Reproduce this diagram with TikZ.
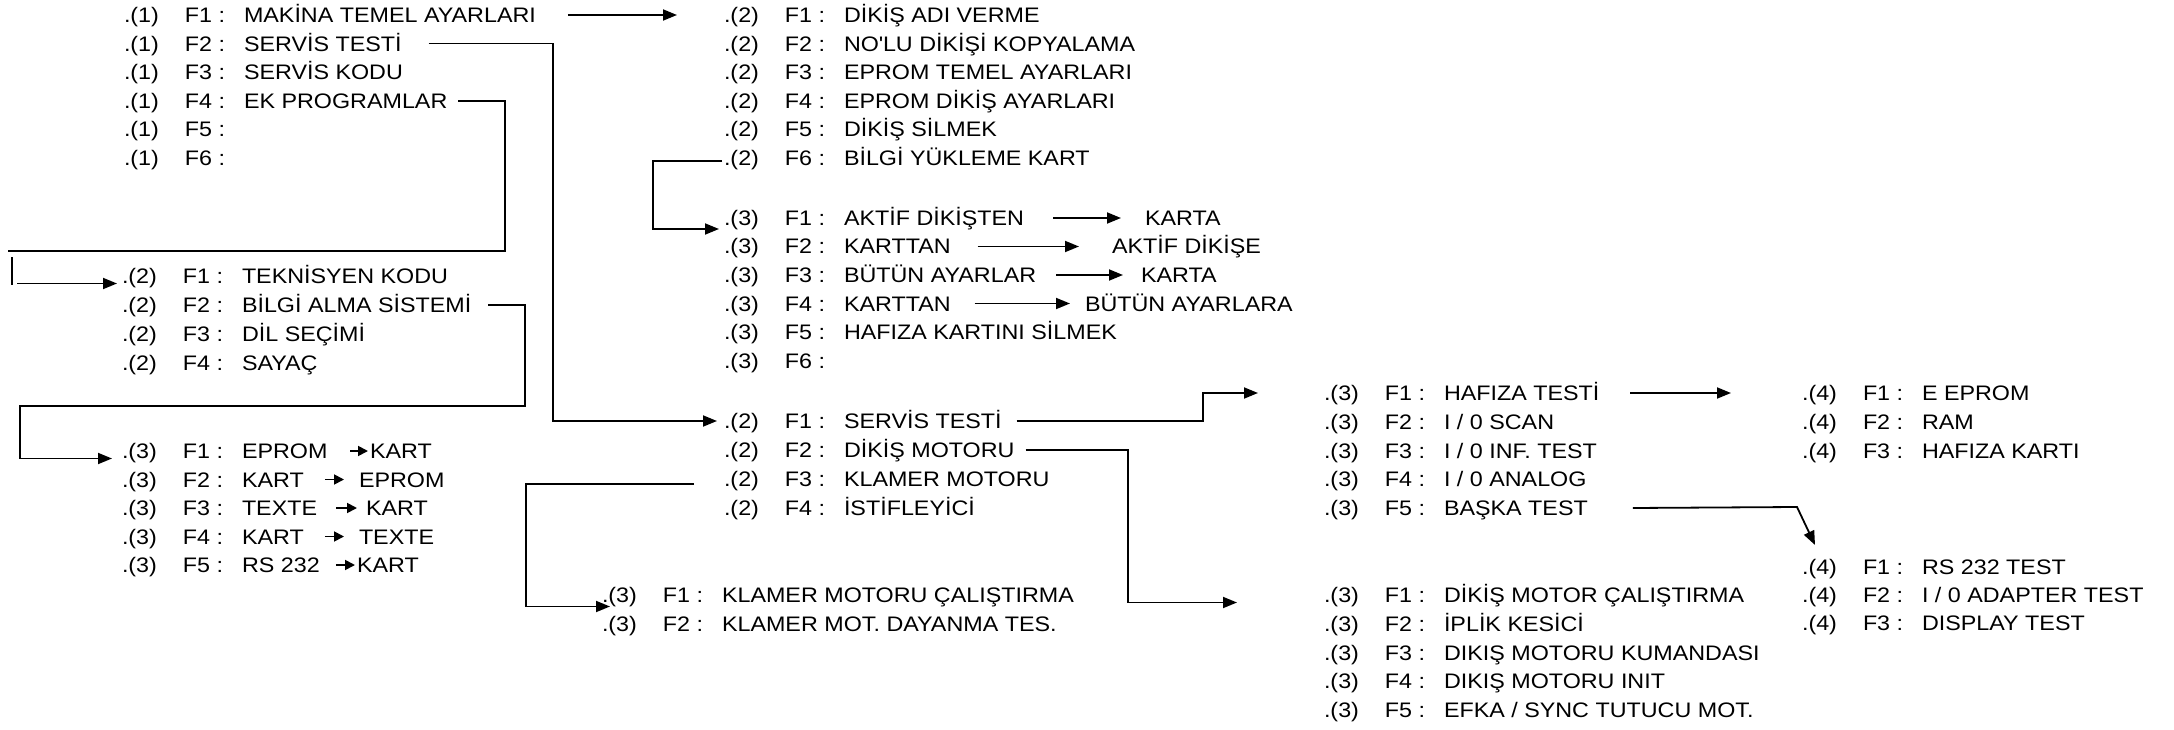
\documentclass[tikz,border=0pt]{standalone}
\usepackage{fontspec}
\setmainfont{Liberation Sans}[FakeStretch=1.11]
\usetikzlibrary{arrows.meta,calc}
\newcommand\rw[3]{\makebox[61pt][l]{#1}\makebox[59pt][l]{#2}#3}
\begin{document}
\begin{tikzpicture}[x=1pt,y=-1pt,
  every node/.style={inner sep=0pt, outer sep=0pt},
  rowt/.style={anchor=west, text height=15pt, text depth=0pt, font=\fontsize{21}{25}\selectfont},
  ln/.style={line width=1.8pt},
  arr/.style={ln,-{Triangle[length=14pt,width=11pt]}},
  sarr/.style={ln,-{Triangle[length=10pt,width=10pt]}}]
\fill[white] (0,0) rectangle (2174,730);
\useasboundingbox (0,0) rectangle (2174,730);

% level 1
\node[rowt] (a1) at (124,15)    {\rw{.(1)}{F1 :}{MAKİNA TEMEL AYARLARI}};
\node[rowt] (a2) at (124,43.6)  {\rw{.(1)}{F2 :}{SERVİS TESTİ}};
\node[rowt] (a3) at (124,72.2)  {\rw{.(1)}{F3 :}{SERVİS KODU}};
\node[rowt] (a4) at (124,100.8) {\rw{.(1)}{F4 :}{EK PROGRAMLAR}};
\node[rowt] (a5) at (124,129.4) {\rw{.(1)}{F5 :}{}};
\node[rowt] (a6) at (124,158)   {\rw{.(1)}{F6 :}{}};

% level 2 under MAKINA
\node[rowt] (d1) at (724,15)    {\rw{.(2)}{F1 :}{DİKİŞ ADI VERME}};
\node[rowt] (d2) at (724,43.6)  {\rw{.(2)}{F2 :}{NO\textquotesingle LU DİKİŞİ KOPYALAMA}};
\node[rowt] (d3) at (724,72.2)  {\rw{.(2)}{F3 :}{EPROM TEMEL AYARLARI}};
\node[rowt] (d4) at (724,100.8) {\rw{.(2)}{F4 :}{EPROM DİKİŞ AYARLARI}};
\node[rowt] (d5) at (724,129.4) {\rw{.(2)}{F5 :}{DİKİŞ SİLMEK}};
\node[rowt] (d6) at (724,158)   {\rw{.(2)}{F6 :}{BİLGİ YÜKLEME KART}};

% level 3 under BILGI YUKLEME
\node[rowt] (e1) at (724,218)   {\rw{.(3)}{F1 :}{AKTİF DİKİŞTEN}};
\node[rowt] (e2) at (724,246.5) {\rw{.(3)}{F2 :}{KARTTAN}};
\node[rowt] (e3) at (724,275)   {\rw{.(3)}{F3 :}{BÜTÜN AYARLAR}};
\node[rowt] (e4) at (724,303.5) {\rw{.(3)}{F4 :}{KARTTAN}};
\node[rowt] (e5) at (724,332)   {\rw{.(3)}{F5 :}{HAFIZA KARTINI SİLMEK}};
\node[rowt] (e6) at (724,360.5) {\rw{.(3)}{F6 :}{}};
\node[rowt] (e1r) at (1145,218)   {KARTA};
\node[rowt] (e2r) at (1112,246.5) {AKTİF DİKİŞE};
\node[rowt] (e3r) at (1141,275)   {KARTA};
\node[rowt] (e4r) at (1085,303.5) {BÜTÜN AYARLARA};

% level 2 under EK PROGRAMLAR
\node[rowt] (b1) at (122,276) {\rw{.(2)}{F1 :}{TEKNİSYEN KODU}};
\node[rowt] (b2) at (122,305) {\rw{.(2)}{F2 :}{BİLGİ ALMA SİSTEMİ}};
\node[rowt] (b3) at (122,334) {\rw{.(2)}{F3 :}{DİL SEÇİMİ}};
\node[rowt] (b4) at (122,363) {\rw{.(2)}{F4 :}{SAYAÇ}};

% level 3 under BILGI ALMA
\node[rowt] (c1) at (122,451)   {\rw{.(3)}{F1 :}{EPROM}};
\node[rowt] (c2) at (122,479.5) {\rw{.(3)}{F2 :}{KART}};
\node[rowt] (c3) at (122,508)   {\rw{.(3)}{F3 :}{TEXTE}};
\node[rowt] (c4) at (122,536.5) {\rw{.(3)}{F4 :}{KART}};
\node[rowt] (c5) at (122,565)   {\rw{.(3)}{F5 :}{RS 232}};
\node[rowt] (c1r) at (370,451)   {KART};
\node[rowt] (c2r) at (359,479.5) {EPROM};
\node[rowt] (c3r) at (366,508)   {KART};
\node[rowt] (c4r) at (359,536.5) {TEXTE};
\node[rowt] (c5r) at (357,565)   {KART};

% level 2 under SERVIS TESTI
\node[rowt] (f1) at (724,421) {\rw{.(2)}{F1 :}{SERVİS TESTİ}};
\node[rowt] (f2) at (724,450) {\rw{.(2)}{F2 :}{DİKİŞ MOTORU}};
\node[rowt] (f3) at (724,479) {\rw{.(2)}{F3 :}{KLAMER MOTORU}};
\node[rowt] (f4) at (724,508) {\rw{.(2)}{F4 :}{İSTİFLEYİCİ}};

% klamer
\node[rowt] (g1) at (602,595) {\rw{.(3)}{F1 :}{KLAMER MOTORU ÇALIŞTIRMA}};
\node[rowt] (g2) at (602,624) {\rw{.(3)}{F2 :}{KLAMER MOT. DAYANMA TES.}};

% servis testi level 3
\node[rowt] (h1) at (1324,393)   {\rw{.(3)}{F1 :}{HAFIZA TESTİ}};
\node[rowt] (h2) at (1324,422)   {\rw{.(3)}{F2 :}{I / 0 SCAN}};
\node[rowt] (h3) at (1324,450.5) {\rw{.(3)}{F3 :}{I / 0 INF. TEST}};
\node[rowt] (h4) at (1324,479)   {\rw{.(3)}{F4 :}{I / 0 ANALOG}};
\node[rowt] (h5) at (1324,508)   {\rw{.(3)}{F5 :}{BAŞKA TEST}};

% level 4
\node[rowt] (i1) at (1802,393)   {\rw{.(4)}{F1 :}{E EPROM}};
\node[rowt] (i2) at (1802,422)   {\rw{.(4)}{F2 :}{RAM}};
\node[rowt] (i3) at (1802,450.5) {\rw{.(4)}{F3 :}{HAFIZA KARTI}};
\node[rowt] (j1) at (1802,567) {\rw{.(4)}{F1 :}{RS 232 TEST}};
\node[rowt] (j2) at (1802,595) {\rw{.(4)}{F2 :}{I / 0 ADAPTER TEST}};
\node[rowt] (j3) at (1802,623) {\rw{.(4)}{F3 :}{DISPLAY TEST}};

% dikis motoru level 3
\node[rowt] (k1) at (1324,595)    {\rw{.(3)}{F1 :}{DİKİŞ MOTOR ÇALIŞTIRMA}};
\node[rowt] (k2) at (1324,623.75) {\rw{.(3)}{F2 :}{İPLİK KESİCİ}};
\node[rowt] (k3) at (1324,652.5)  {\rw{.(3)}{F3 :}{DIKIŞ MOTORU KUMANDASI}};
\node[rowt] (k4) at (1324,681.25) {\rw{.(3)}{F4 :}{DIKIŞ MOTORU INIT}};
\node[rowt] (k5) at (1324,710)    {\rw{.(3)}{F5 :}{EFKA / SYNC TUTUCU MOT.}};

% corner coordinates
\coordinate (kA2) at (553,421);
\coordinate (ekR) at (505,251);
\coordinate (ekL) at (8,251);
\coordinate (stubT) at (12,257);
\coordinate (stubB) at (12,285);
\coordinate (bR) at (525,406);
\coordinate (bL) at (20,406);
\coordinate (brX) at (653,229);
\coordinate (fR) at (1203,400);
\coordinate (fD) at (1128,500);
\coordinate (gL) at (526,550);
\coordinate (hJ) at (1797,507);

% connectors
\draw[arr] ([xshift=32pt]a1.east) -- ([xshift=-47pt]d1.west);
\draw[arr,shorten >=7pt] ([xshift=27pt]a2.east) -| (kA2) |- (f1.west);
\draw[ln] ([xshift=11pt]a4.east) -| (ekR) -- (ekL);
\draw[ln] (stubT) -- (stubB);
\draw[arr] ([xshift=-105pt]b1.south west) -- ([xshift=-5pt]b1.south west);
\draw[arr,shorten >=10pt] ([xshift=17pt]b2.east) -| (bR) -| (bL) |- (c1.south west);
\draw[arr,shorten >=5pt] ([xshift=-2pt,yshift=-3pt]d6.west) -| (brX) -- (brX -| e1.west);
\draw[arr,shorten >=66pt] ([xshift=15pt]f1.east) -| (fR) |- (h1.west);
\draw[arr,shorten >=87pt] ([xshift=11pt]f2.east) -| (fD) |- (k1.south west);
\draw[arr] ([xshift=-30pt,yshift=-5pt]f3.west) -| (gL) |- ([xshift=8pt,yshift=-4pt]g1.south west);
\draw[arr] ([xshift=31pt]h1.east) -- ([xshift=-71pt]i1.west);
\draw[arr] ([xshift=45pt]h5.east) -- (hJ) -- ([xshift=13pt,yshift=14.5pt]j1.north west);

% inline arrows
\draw[arr] ([xshift=29pt]e1.east) -- ([xshift=-24pt]e1r.west);
\draw[arr] ([xshift=27pt]e2.east) -- ([xshift=-33pt]e2r.west);
\draw[arr] ([xshift=20pt]e3.east) -- ([xshift=-18pt]e3r.west);
\draw[arr] ([xshift=24pt]e4.east) -- ([xshift=-15pt]e4r.west);
\draw[sarr] ([xshift=23pt]c1.east) -- ([xshift=-2pt]c1r.west);
\draw[sarr] ([xshift=21pt]c2.east) -- ([xshift=-15pt]c2r.west);
\draw[sarr] ([xshift=19pt]c3.east) -- ([xshift=-9pt]c3r.west);
\draw[sarr] ([xshift=21pt]c4.east) -- ([xshift=-15pt]c4r.west);
\draw[sarr] ([xshift=16pt]c5.east) -- ([xshift=-2pt]c5r.west);
\end{tikzpicture}
\end{document}
